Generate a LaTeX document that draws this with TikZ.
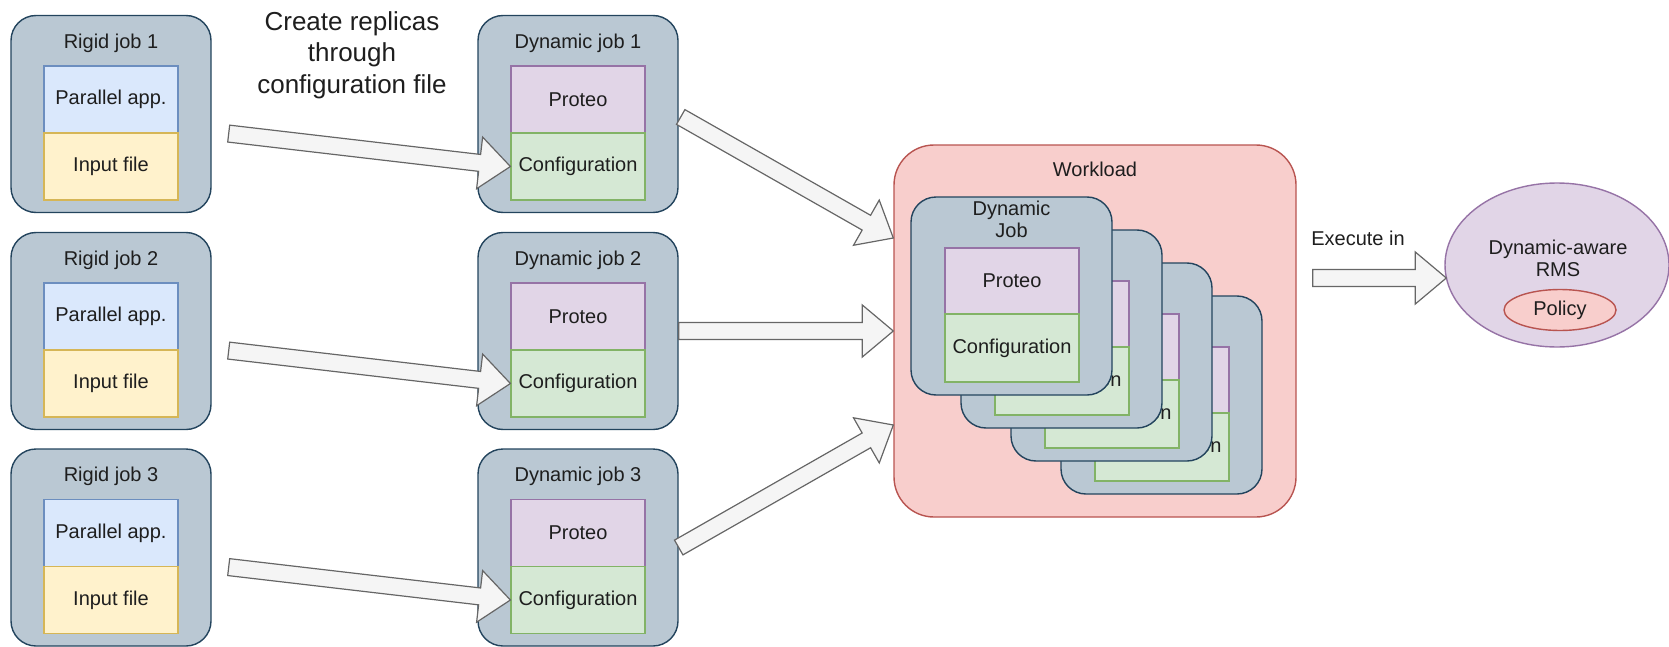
\documentclass[tikz,border=0pt]{standalone}
\usepackage{fontspec}
\setmainfont{Liberation Sans}
\usetikzlibrary{calc,shapes.geometric}

% one drawing unit = 0.5pt
\newlength\px
\setlength\px{0.5pt}

\definecolor{jobfill}{HTML}{BAC8D3}
\definecolor{jobline}{HTML}{23445D}
\definecolor{appfill}{HTML}{DAE8FC}
\definecolor{appline}{HTML}{6C8EBF}
\definecolor{infill}{HTML}{FFF2CC}
\definecolor{inline}{HTML}{D6B656}
\definecolor{profill}{HTML}{E1D5E7}
\definecolor{proline}{HTML}{9673A6}
\definecolor{cfgfill}{HTML}{D5E8D4}
\definecolor{cfgline}{HTML}{82B366}
\definecolor{wlfill}{HTML}{F8CECC}
\definecolor{wlline}{HTML}{B85450}
\definecolor{arrfill}{HTML}{F5F5F5}
\definecolor{arrline}{HTML}{666666}
\definecolor{ink}{HTML}{1E1E1E}

% wide outlined arrow from #1 to #2
\newcommand\blockarrow[2]{%
  \path ($(#2)!15.5pt!(#1)$) coordinate (ah);
  \draw[blockarr] ($(#1)!4.25pt!90:(#2)$) -- ($(ah)!4.25pt!90:(#2)$)
    -- ($(ah)!13pt!90:(#2)$) -- (#2) -- ($(ah)!13pt!-90:(#2)$)
    -- ($(ah)!4.25pt!-90:(#2)$) -- ($(#1)!4.25pt!-90:(#2)$) -- cycle;}

\tikzset{
  txt/.style={text=ink, font=\fontsize{10}{11}\selectfont, align=center, inner sep=0pt},
  bigtxt/.style={text=ink, font=\fontsize{13}{15.75}\selectfont, align=center, inner sep=0pt},
  jobbox/.style={draw=jobline, fill=jobfill, line width=0.7pt, rounded corners=12.5pt,
    minimum width=200\px, minimum height=197\px, inner sep=0pt},
  card/.style={jobbox, minimum width=201\px, minimum height=198\px},
  part/.style={txt, line width=0.6pt, minimum width=134\px, minimum height=67\px},
  app/.style={part, draw=appline, fill=appfill},
  inp/.style={part, draw=inline, fill=infill},
  pro/.style={part, draw=proline, fill=profill},
  cfg/.style={part, draw=cfgline, fill=cfgfill},
  blockarr/.style={draw=arrline, fill=arrfill, line width=0.6pt, line join=miter},
  workbox/.style={draw=wlline, fill=wlfill, line width=0.7pt, rounded corners=20pt,
    minimum width=402\px, minimum height=372\px, inner sep=0pt},
  rmsshape/.style={ellipse, draw=proline, fill=profill, line width=0.7pt,
    minimum width=224\px, minimum height=164\px, inner sep=0pt},
  polshape/.style={ellipse, draw=wlline, fill=wlfill, line width=0.7pt, txt,
    minimum width=112\px, minimum height=41\px},
}

\begin{document}
\begin{tikzpicture}[x=0.5pt, y=-0.5pt]
\useasboundingbox (0,0) rectangle (1669,647);

% rigid jobs and their dynamic replicas
\foreach \i/\cy in {1/114, 2/331, 3/547.5}{
  \node[jobbox] (rigid\i) at (111,\cy) {};
  \node[txt] (rigidt\i) at (111,{\cy-71}) {Rigid job \i};
  \node[app] (app\i) at (111,{\cy-14.5}) {Parallel app.};
  \node[inp] (inp\i) at (111,{\cy+52.5}) {Input file};
  \node[jobbox] (dyn\i) at (578,\cy) {};
  \node[txt] (dynt\i) at (578,{\cy-71}) {Dynamic job \i};
  \node[pro] (pro\i) at (578,{\cy-14.5}) {Proteo};
  \node[cfg] (cfg\i) at (578,{\cy+52.5}) {Configuration};
}

\node[bigtxt] (replicas) at (352,55) {Create replicas\\through\\configuration file};

% workload with a stack of dynamic jobs
\node[workbox] (work) at (1095,331) {};
\node[txt] (worklabel) at (1095,169) {Workload};
\foreach \k in {3,2,1,0}{
  \pgfmathsetmacro\cx{1011.5+50*\k}
  \pgfmathsetmacro\ty{197+33*\k}
  \node[card] (card\k) at (\cx,{\ty+99}) {};
  \node[txt] (cardt\k) at (\cx,{\ty+22}) {Dynamic\\Job};
  \node[pro, minimum height=66\px] (cpro\k) at ({\cx+0.5},{\ty+84}) {Proteo};
  \node[cfg, minimum height=68\px] (ccfg\k) at ({\cx+0.5},{\ty+151}) {Configuration};
}

% resource manager
\node[rmsshape] (rms) at (1557,265) {};
\node[txt] (rmslabel) at (1558,258) {Dynamic-aware\\RMS};
\node[polshape] (policy) at (1560,310) {Policy};
\node[txt] (execlabel) at (1358,238) {Execute in};

% arrows: rigid job -> configuration of its replica
\foreach \i in {1,2,3}{
  \coordinate (rt\i) at ($(rigid\i.east |- app\i.south)+(17,0)$);
  \blockarrow{rt\i}{cfg\i.west}
}

% arrows: dynamic jobs -> workload
\coordinate (d1) at ($(dyn1.east)+(2,3)$);
\coordinate (w1) at ($(work.west)+(0,-93)$);
\coordinate (w3) at ($(work.west)+(0,94)$);
\blockarrow{d1}{w1}
\blockarrow{dyn2.east}{work.west}
\blockarrow{dyn3.east}{w3}

% workload -> RMS
\coordinate (ex) at ($(work.east)+(16,-53)$);
\coordinate (rin) at ($(rms.west)+(2,13)$);
\blockarrow{ex}{rin}
\end{tikzpicture}
\end{document}
